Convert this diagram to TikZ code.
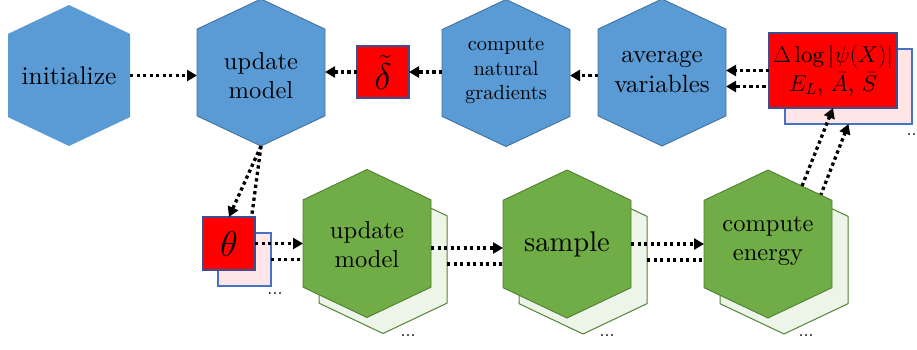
\RequirePackage{fix-cm}
\documentclass[tikz,border=0pt]{standalone}
\usepackage{fontspec}
\setmainfont{lmroman10-regular.otf}
\usetikzlibrary{arrows.meta,calc}
\definecolor{hblue}{HTML}{5B9BD5}
\definecolor{hblueb}{HTML}{41719C}
\definecolor{hgreen}{HTML}{70AD47}
\definecolor{hgreenb}{HTML}{507E32}
\definecolor{lgreen}{HTML}{EDF5E8}
\definecolor{lgreenb}{HTML}{548235}
\definecolor{rboxb}{HTML}{3D4F8F}
\definecolor{pinkf}{HTML}{FFE5E5}
\definecolor{pinkb}{HTML}{4472C4}
\newcommand\hexpath[2]{\path[#2] (#1.north) -- ($(#1.north east)!0.205!(#1.south east)$) -- ($(#1.north east)!0.795!(#1.south east)$) -- (#1.south) -- ($(#1.north west)!0.795!(#1.south west)$) -- ($(#1.north west)!0.205!(#1.south west)$) -- cycle;}
\tikzset{
  hexbox/.style={shape=rectangle, inner sep=0pt, outer sep=0pt, minimum width=128pt, minimum height=148pt},
  bluehex/.style={fill=hblue, draw=hblueb, line width=0.9pt},
  greenhex/.style={fill=hgreen, draw=hgreenb, line width=0.9pt},
  shadowhex/.style={fill=lgreen, draw=lgreenb, line width=1pt},
  redbox/.style={shape=rectangle, fill=red, draw=rboxb, line width=1.2pt, inner sep=0pt, outer sep=0pt},
  pinkbox/.style={shape=rectangle, fill=pinkf, draw=pinkb, line width=1.2pt, inner sep=0pt, outer sep=0pt},
  conn/.style={line width=3.3pt, dash pattern=on 3.3pt off 3.2pt},
  arr/.style={-{Triangle[length=10pt,width=11pt]}},
  hextext/.style={align=center, inner sep=0pt, font=\fontsize{24.5}{29.5}\selectfont},
  dots/.style={inner sep=0pt, font=\fontsize{18}{20}\selectfont}
}
\begin{document}
\begin{tikzpicture}[x=1pt,y=-1pt]
\useasboundingbox (0,0) rectangle (917,349);
% geometry nodes
\node[hexbox, minimum width=122pt, minimum height=141pt] (init) at (69,75.5) {};
\node[hexbox, minimum height=147pt] (um) at (261,72.5) {};
\node[hexbox, minimum height=147pt] (cng) at (506,73) {};
\node[hexbox, minimum height=147pt] (av) at (662,72.5) {};
\node[hexbox] (gum) at (367,243.5) {};
\node[hexbox] (smp) at (567,244) {};
\node[hexbox] (ce) at (768,244) {};
\node[hexbox] (gums) at (383,259.5) {};
\node[hexbox] (smps) at (583,260) {};
\node[hexbox] (ces) at (784,260) {};
% shadows
\hexpath{gums}{shadowhex}
\hexpath{smps}{shadowhex}
\hexpath{ces}{shadowhex}
\node[pinkbox, minimum width=53pt, minimum height=53pt] (ths) at (244.5,259.5) {};
\node[pinkbox, minimum width=127pt, minimum height=75pt] (rbs) at (848.5,86.5) {};
% connectors
\coordinate (a1) at ($(gum.east)+(0,4.5)$);
\coordinate (a2) at ($(gums.east)+(0,4.5)$);
\coordinate (c1) at ($(ce.north)+(34,16)$);
\coordinate (c2) at ($(ces.north)+(34,16)$);
\draw[conn,arr] (init.east) -- (um.west |- init.east);
\draw[conn,arr] (av.west |- init.east) -- (cng.east |- init.east);
\draw[conn] (um.south) -- ($(ths.north)+(5,0)$);
\draw[conn] (ths.east) -- (gums.west |- ths.east);
\draw[conn] (a2) -- (smps.west |- a2);
\draw[conn] (smps.east) -- (ces.west |- smps.east);
\draw[conn,arr] (c2) -- (rbs.south);
\draw[conn,arr] (rbs.west) -- (av.east |- rbs.west);
% main hexagons
\hexpath{init}{fill=hblue}
\hexpath{um}{bluehex}
\hexpath{cng}{bluehex}
\hexpath{av}{bluehex}
\hexpath{gum}{greenhex}
\hexpath{smp}{greenhex}
\hexpath{ce}{greenhex}
% red boxes
\node[redbox, minimum width=52pt, minimum height=52pt, font=\fontsize{37}{40}\selectfont] (dl) at (383,72) {$\tilde{\delta}$};
\node[redbox, minimum width=52pt, minimum height=53pt, font=\fontsize{36}{40}\selectfont] (th) at (229,243.5) {$\theta$};
\node[redbox, minimum width=128pt, minimum height=75pt, align=center, font=\fontsize{23}{28.5}\selectfont] (rb) at (833,70.5) {$\Delta\log|\psi(X)|$\\$E_L$, $\bar{A}$, $\bar{S}$};
\draw[conn,arr] (um.south) -- (th.north);
\draw[conn,arr] (dl.west) -- (um.east |- dl.west);
\draw[conn,arr] (cng.west |- dl.east) -- (dl.east);
\draw[conn,arr] (rb.west) -- (av.east |- rb.west);
\draw[conn,arr] (th.east) -- (gum.west |- th.east);
\draw[conn,arr] (a1) -- (smp.west |- a1);
\draw[conn,arr] (smp.east) -- (ce.west |- smp.east);
\draw[conn,arr] (c1) -- (rb.south);
% texts
\node[hextext, font=\fontsize{25.5}{30}\selectfont] (t1) at (init.center) {initialize};
\node[hextext] (t2) at ($(um.center)+(0,3)$) {update\\model};
\node[hextext, font=\fontsize{20.5}{24.5}\selectfont] (t3) at ($(cng.center)+(0,-2)$) {compute\\natural\\gradients};
\node[hextext, font=\fontsize{25}{30}\selectfont] (t4) at ($(av.center)+(0,-1)$) {average\\variables};
\node[hextext] (t5) at ($(gum.center)+(0,1)$) {update\\model};
\node[hextext, font=\fontsize{28.5}{33}\selectfont] (t6) at (smp.center) {sample};
\node[hextext] (t7) at ($(ce.center)+(0,-3)$) {compute\\energy};
% dots
\node[dots] (d1) at (275,294) {...};
\node[dots] (d2) at (408,336) {...};
\node[dots] (d3) at (607,336) {...};
\node[dots] (d4) at (806,336) {...};
\node[dots] (d5) at (914,135) {...};
\end{tikzpicture}
\end{document}
